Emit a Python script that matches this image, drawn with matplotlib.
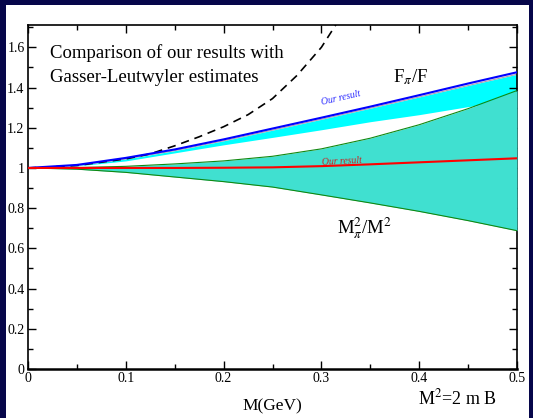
import matplotlib
matplotlib.use("Agg")
import matplotlib.pyplot as plt
from matplotlib.patches import Rectangle
from matplotlib.ticker import MultipleLocator, FormatStrFormatter

plt.rcParams['font.family'] = ['Liberation Serif', 'DejaVu Serif']
plt.rcParams['mathtext.fontset'] = 'stix'

# mass M (GeV)
xGrid = [0.0, 0.05, 0.1, 0.15, 0.2, 0.25, 0.3, 0.35, 0.4, 0.45, 0.5]

# F_pi/F : our result (blue) and Gasser-Leutwyler band (cyan)
fOurs = [1.0, 1.015, 1.05, 1.092, 1.142, 1.196, 1.25, 1.305, 1.362, 1.42, 1.476]
fBandHigh = [1.0, 1.012, 1.045, 1.086, 1.135, 1.188, 1.242, 1.297, 1.353, 1.41, 1.466]
fBandLow = [1.0, 1.01, 1.035, 1.075, 1.115, 1.152, 1.19, 1.23, 1.265, 1.305, 1.34]

# M_pi^2/M^2 : our result (red) and Gasser-Leutwyler band (turquoise)
mOurs = [1.0, 1.0, 1.0, 1.0, 1.001, 1.003, 1.009, 1.018, 1.028, 1.038, 1.048]
mBandHigh = [1.0, 1.002, 1.008, 1.02, 1.035, 1.058, 1.095, 1.148, 1.215, 1.295, 1.385]
mBandLow = [1.0, 0.994, 0.978, 0.955, 0.932, 0.905, 0.866, 0.826, 0.784, 0.738, 0.688]

# dashed curve
xDash = [0.0, 0.05, 0.1, 0.125, 0.15, 0.175, 0.2, 0.225, 0.25, 0.275, 0.3, 0.325]
yDash = [1.0, 1.012, 1.045, 1.07, 1.11, 1.155, 1.205, 1.265, 1.345, 1.46, 1.6, 1.79]

fig = plt.figure(figsize=(5.33, 4.18), dpi=100, facecolor='#06064a')
fig.patches.append(Rectangle((6 / 533, 0), (529 - 6) / 533, (418 - 5) / 418,
                             transform=fig.transFigure, facecolor='white',
                             edgecolor='none', zorder=-10))

ax = fig.add_axes([28 / 533, 49 / 418, 489 / 533, 344 / 418])
ax.set_facecolor('white')

ax.fill_between(xGrid, fBandLow, fBandHigh, color='#00ffff', lw=0, zorder=1)
ax.plot(xGrid, fBandHigh, color='#b0a0b0', lw=0.8, zorder=2)
ax.fill_between(xGrid, mBandLow, mBandHigh, color='#40e0d0', lw=0, zorder=3)
ax.plot(xGrid, mBandHigh, color='#118811', lw=0.8, zorder=4)
ax.plot(xGrid, mBandLow, color='#118811', lw=0.8, zorder=4)
ax.plot(xDash, yDash, color='black', lw=1.2, dashes=(5, 3.5), zorder=5)
ax.plot(xGrid, fOurs, color='#0000ff', lw=1.5, zorder=6)
ax.plot(xGrid, mOurs, color='#ff0000', lw=1.5, zorder=6)

ax.text(0.32, 1.305, 'Our result', color='#2a2aff', fontsize=7, style='italic',
        rotation=13, ha='center', va='bottom', zorder=7)
ax.text(0.321, 1.006, 'Our result', color='#cc2222', fontsize=7, style='italic',
        rotation=3, ha='center', va='bottom', zorder=7)

ax.text(0.045, 0.904, 'Comparison of our results with', transform=ax.transAxes,
        fontsize=13.5, ha='left', va='baseline')
ax.text(0.045, 0.834, 'Gasser-Leutwyler estimates', transform=ax.transAxes,
        fontsize=13.5, ha='left', va='baseline')
ax.text(0.373, 1.428, r'F$_\pi$/F', fontsize=13.5, ha='left', va='baseline')
ax.text(0.316, 0.672, r'M$_\pi^2$/M$^2$', fontsize=13.5, ha='left', va='baseline')

fig.text(272 / 533, (418 - 410) / 418, 'M(GeV)', fontsize=12.5, ha='center', va='baseline')
fig.text(418 / 533, (418 - 404) / 418, r'M$^2$=2 m B', fontsize=13, ha='left', va='baseline')

ax.set_xlim(0, 0.5)
ax.set_ylim(0, 1.711)
ax.xaxis.set_major_locator(MultipleLocator(0.1))
ax.xaxis.set_minor_locator(MultipleLocator(0.05))
ax.yaxis.set_major_locator(MultipleLocator(0.2))
ax.yaxis.set_minor_locator(MultipleLocator(0.1))
ax.xaxis.set_major_formatter(FormatStrFormatter('%g'))
ax.yaxis.set_major_formatter(FormatStrFormatter('%g'))
ax.tick_params(which='both', direction='in', top=True, right=True, labelsize=10, pad=2.5)
ax.tick_params(which='major', length=6, width=1)
ax.tick_params(which='minor', length=3.5, width=1)
for side, spine in ax.spines.items():
    spine.set_linewidth(1.2)
ax.spines['bottom'].set_linewidth(1.8)

fig.savefig('out.png', dpi=100, facecolor=fig.get_facecolor())
